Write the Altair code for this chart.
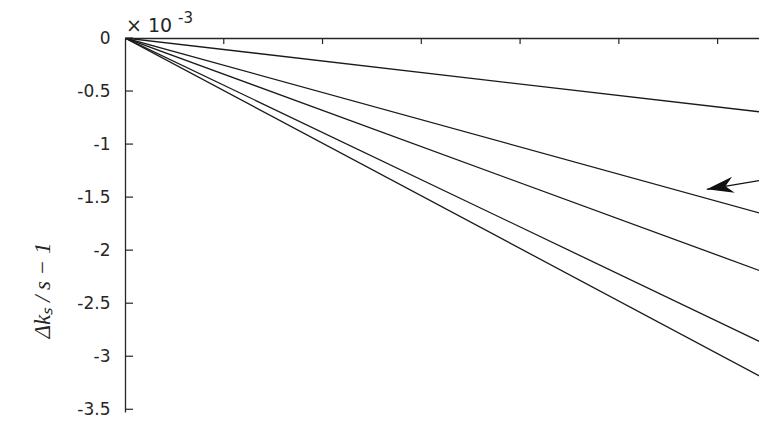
import altair as alt
import pandas as pd

# Values (y in units of 1e-3)
series_names = ["c1", "c2", "c3", "c4", "c5"]
x_start = 0.0
x_end = 6.5
y_end = [-0.704, -1.669, -2.218, -2.894, -3.224]

y_ticks = [-3.5, -3.0, -2.5, -2.0, -1.5, -1.0, -0.5, 0.0]
x_ticks = [1, 2, 3, 4, 5, 6]

arrow_x = [6.5, 5.89]
arrow_y = [-1.332, -1.426]

rows = []
for name, ye in zip(series_names, y_end):
    rows.append({"series": name, "x": x_start, "y": 0.0})
    rows.append({"series": name, "x": x_end, "y": ye})
lines_df = pd.DataFrame(rows)

PLOT_W = 634
PLOT_H = 374
PX_PER_X = 98.77
PX_PER_Y = 106.08

xs = alt.Scale(domain=[0, PLOT_W / PX_PER_X], nice=False, zero=False)
ys = alt.Scale(domain=[-PLOT_H / PX_PER_Y, 0], nice=False, zero=False)

INK = "#262626"

lines = alt.Chart(lines_df).mark_line(color="#1a1a1a", strokeWidth=1.3, clip=True).encode(
    x=alt.X("x:Q", scale=xs, axis=alt.Axis(orient="top", labels=False, ticks=False, grid=False,
                                            domain=True, domainColor=INK, domainWidth=1.3, title=None)),
    y=alt.Y("y:Q", scale=ys, axis=alt.Axis(values=y_ticks, grid=False, ticks=False, tickSize=0,
                                            domain=True, domainColor=INK, domainWidth=1.3,
                                            labelExpr="'' + datum.value",
                                            labelFont="DejaVu Sans", labelFontSize=17, labelColor=INK,
                                            labelPadding=15,
                                            title="Δkₛ / s  −  1", titleFont="Liberation Serif",
                                            titleFontSize=23, titleFontStyle="italic",
                                            titleFontWeight="normal", titleColor=INK,
                                            titleAngle=270, titleAlign="center", titleBaseline="middle",
                                            titleX=-83, titleY=252)),
    detail="series:N",
)

ytick_df = pd.DataFrame({"v": y_ticks})
yt = alt.Chart(ytick_df).mark_rule(color=INK, strokeWidth=1.2).encode(
    y=alt.Y("v:Q", scale=ys), x=alt.value(0), x2=alt.value(8)
)
xtick_df = pd.DataFrame({"v": x_ticks})
xt = alt.Chart(xtick_df).mark_rule(color=INK, strokeWidth=1.2).encode(
    x=alt.X("v:Q", scale=xs), y=alt.value(0), y2=alt.value(6)
)

exp_df = pd.DataFrame({"t": ["× 10"]})
exp1 = alt.Chart(exp_df).mark_text(align="left", baseline="alphabetic", font="DejaVu Sans",
                                   fontSize=19, color=INK).encode(
    x=alt.value(1), y=alt.value(-6), text="t:N")
exp2_df = pd.DataFrame({"t": ["-3"]})
exp2 = alt.Chart(exp2_df).mark_text(align="left", baseline="alphabetic", font="DejaVu Sans",
                                    fontSize=15, color=INK).encode(
    x=alt.value(53), y=alt.value(-15), text="t:N")

arrow_df = pd.DataFrame({"x": arrow_x, "y": arrow_y})
shaft = alt.Chart(arrow_df).mark_line(color="#111111", strokeWidth=1.3, clip=True).encode(
    x=alt.X("x:Q", scale=xs), y=alt.Y("y:Q", scale=ys)
)
head_df = pd.DataFrame({"x": [arrow_x[1]], "y": [arrow_y[1]]})
head = alt.Chart(head_df).mark_point(
    shape="M0,0 L2,-0.6 L1.4,0 L2,0.6 Z", filled=True, color="#111111", opacity=1,
    size=729, angle=350.6
).encode(x=alt.X("x:Q", scale=xs), y=alt.Y("y:Q", scale=ys))

chart = alt.layer(lines, yt, xt, exp1, exp2, shaft, head).properties(
    width=PLOT_W, height=PLOT_H,
    padding={"left": 117, "top": 30, "right": 0, "bottom": 3},
    autosize=alt.AutoSizeParams(type="none"),
    background="white",
).configure_view(stroke=None)

chart.save("out.html", embed_options={"renderer": "svg", "actions": False})
